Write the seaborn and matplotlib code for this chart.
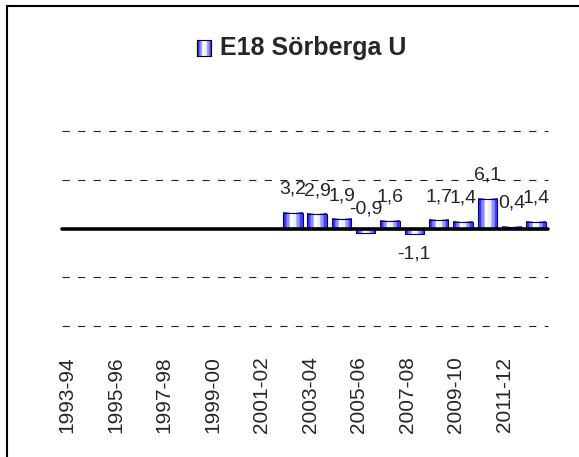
import numpy as np
import pandas as pd
import seaborn as sns
import matplotlib.pyplot as plt
import matplotlib.patches as mpatches
import matplotlib.transforms as mtransforms

# data
seasons = ['1993-94', '1994-95', '1995-96', '1996-97', '1997-98', '1998-99', '1999-00',
           '2000-01', '2001-02', '2002-03', '2003-04', '2004-05', '2005-06', '2006-07',
           '2007-08', '2008-09', '2009-10', '2010-11', '2011-12', '2012-13']
change = [np.nan, np.nan, np.nan, np.nan, np.nan, np.nan, np.nan, np.nan, np.nan,
          3.2, 2.9, 1.9, -0.9, 1.6, -1.1, 1.7, 1.4, 6.1, 0.4, 1.4]
series_name = 'E18 Sörberga U'

df = pd.DataFrame({'season': seasons, 'change': change})

sns.set_style('white')
plt.rcParams['font.family'] = ['Liberation Sans', 'DejaVu Sans']

W, H = 579, 457
fig = plt.figure(figsize=(W / 100, H / 100), dpi=100)
ax = fig.add_axes([62 / W, 1 - 326 / H, 486 / W, 195 / H])

sns.barplot(data=df.dropna(), x='season', y='change', order=seasons, width=0.8,
            color='#6666ff', edgecolor='#000066', linewidth=0.8, ax=ax, zorder=3)

# cylinder-like shading on the bars
grad_cols = np.array([[0.2, 0.2, 1.0], [0.55, 0.55, 1.0], [1, 1, 1], [0.93, 0.93, 1.0],
                      [0.6, 0.6, 1.0], [0.25, 0.25, 1.0]])
grad = np.repeat(np.repeat(grad_cols[None, :, :], 2, axis=0), 4, axis=1)
for p in list(ax.patches):
    h = p.get_height()
    if not np.isfinite(h) or h == 0:
        continue
    x0, y0, w = p.get_x(), p.get_y(), p.get_width()
    ax.imshow(grad, extent=[x0, x0 + w, y0, y0 + h], aspect='auto', zorder=3.5,
              interpolation='bilinear')
    p.set_facecolor('none')
    p.set_zorder(4)

ax.set_xlim(-0.5, len(seasons) - 0.5)
ax.set_ylim(-20, 20)

for yv in [-20, -10, 10, 20]:
    ax.axhline(yv, color='#222222', lw=0.8, linestyle=(0, (6.5, 7.5)), clip_on=False, zorder=1)
ax.axhline(0, color='black', lw=2.6, solid_capstyle='round', clip_on=False, zorder=6)

# value labels
for i, v in enumerate(change):
    if not np.isfinite(v):
        continue
    lbl = f'{v:.1f}'.replace('.', ',')
    if v < -1:
        ax.annotate(lbl, (i, v), xytext=(0, -12), textcoords='offset pixels',
                    ha='center', va='top', fontsize=14)
    else:
        ax.annotate(lbl, (i, v), xytext=(0, 19), textcoords='offset pixels',
                    ha='center', va='baseline', fontsize=14)

sns.despine(ax=ax, left=True, bottom=True, top=True, right=True)
ax.set_yticks([])
ax.set_xticks(range(0, len(seasons), 2))
ax.set_xticklabels(seasons[::2], rotation=90, fontsize=15)
ax.tick_params(axis='x', length=0, pad=22)
shift = mtransforms.ScaledTranslation(-7 / 100, 0, fig.dpi_scale_trans)
for t in ax.get_xticklabels():
    t.set_transform(t.get_transform() + shift)
ax.set_xlabel('')
ax.set_ylabel('')

# legend as title
lax = fig.add_axes([197 / W, 1 - 56 / H, 14 / W, 16 / H])
lax.imshow(grad, aspect='auto', interpolation='bilinear')
lax.set_xticks([])
lax.set_yticks([])
for s in lax.spines.values():
    s.set_color('black')
    s.set_linewidth(0.8)
fig.text(220 / W, 1 - 48 / H, series_name, fontsize=18, fontweight='bold',
         ha='left', va='center')

# chart border
fig.patches.append(mpatches.Rectangle((7 / W, -0.1), 2, 1 - 6 / H + 0.1, transform=fig.transFigure,
                                      fill=False, edgecolor='black', lw=1.5))

fig.savefig('out.png', dpi=100)
